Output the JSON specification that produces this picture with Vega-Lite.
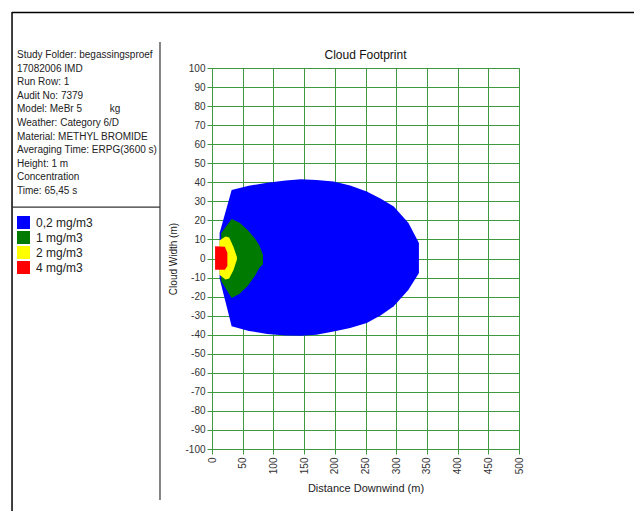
{
  "$schema": "https://vega.github.io/schema/vega-lite/v6.json",
  "autosize": {"type": "none"},
  "width": 307,
  "height": 381,
  "padding": {"left": 212, "top": 68, "right": 115, "bottom": 62},
  "background": "white",
  "title": {"text": "Cloud Footprint", "fontSize": 12, "fontWeight": "normal", "font": "Liberation Sans", "color": "#111", "offset": 6, "anchor": "middle", "dy": 57},
  "config": {
    "view": {"stroke": "#808080", "strokeWidth": 1},
    "font": "Liberation Sans",
    "axis": {
      "gridColor": "#3f9a3f", "gridOpacity": 1, "gridWidth": 1,
      "tickColor": "#3f9a3f", "tickSize": 5, "domain": false, "labelOverlap": false,
      "labelFont": "Liberation Sans", "labelFontSize": 10, "labelColor": "#333",
      "titleFont": "Liberation Sans", "titleFontWeight": "normal", "titleColor": "#222"
    },
    "axisX": {"labelAngle": -90, "labelPadding": 3, "titleFontSize": 11, "titlePadding": 9},
    "axisY": {"labelPadding": 2, "titleFontSize": 10, "titlePadding": 6}
  },
  "datasets": {
    "cloud": [
      {"level": "0,2 mg/m3", "x": 12.4, "lo": -10.5, "hi": 13.4},
      {"level": "0,2 mg/m3", "x": 32, "lo": -35.6, "hi": 36},
      {"level": "0,2 mg/m3", "x": 60, "lo": -38, "hi": 38.2},
      {"level": "0,2 mg/m3", "x": 90, "lo": -39.6, "hi": 39.8},
      {"level": "0,2 mg/m3", "x": 120, "lo": -40.4, "hi": 41},
      {"level": "0,2 mg/m3", "x": 145, "lo": -40.6, "hi": 41.6},
      {"level": "0,2 mg/m3", "x": 170, "lo": -40, "hi": 41.2},
      {"level": "0,2 mg/m3", "x": 198, "lo": -38.3, "hi": 40.4},
      {"level": "0,2 mg/m3", "x": 225, "lo": -36.5, "hi": 38.3},
      {"level": "0,2 mg/m3", "x": 252, "lo": -33.9, "hi": 35.2},
      {"level": "0,2 mg/m3", "x": 275, "lo": -29.8, "hi": 31.3},
      {"level": "0,2 mg/m3", "x": 296, "lo": -25.1, "hi": 27.3},
      {"level": "0,2 mg/m3", "x": 320, "lo": -16.4, "hi": 18.6},
      {"level": "0,2 mg/m3", "x": 337, "lo": -7.6, "hi": 8.1},
      {"level": "1 mg/m3", "x": 15, "lo": -12, "hi": 13.4},
      {"level": "1 mg/m3", "x": 32, "lo": -20.8, "hi": 20.7},
      {"level": "1 mg/m3", "x": 45, "lo": -18.5, "hi": 18.8},
      {"level": "1 mg/m3", "x": 58, "lo": -14.5, "hi": 15},
      {"level": "1 mg/m3", "x": 70, "lo": -9, "hi": 10.5},
      {"level": "1 mg/m3", "x": 77, "lo": -5, "hi": 7},
      {"level": "1 mg/m3", "x": 83, "lo": -3, "hi": 2},
      {"level": "2 mg/m3", "x": 12, "lo": -8.5, "hi": 9.5},
      {"level": "2 mg/m3", "x": 22, "lo": -11, "hi": 11.6},
      {"level": "2 mg/m3", "x": 28, "lo": -10.5, "hi": 11},
      {"level": "2 mg/m3", "x": 35, "lo": -6, "hi": 6},
      {"level": "2 mg/m3", "x": 40.6, "lo": -0.5, "hi": 0.8},
      {"level": "4 mg/m3", "x": 5, "lo": -5.9, "hi": 6.4},
      {"level": "4 mg/m3", "x": 21, "lo": -5.9, "hi": 6.2},
      {"level": "4 mg/m3", "x": 25, "lo": -4, "hi": 3}
    ]
  },
  "layer": [
    {
      "data": {"name": "cloud"},
      "mark": {"type": "area", "opacity": 1, "interpolate": "linear"},
      "encoding": {
        "x": {"field": "x", "type": "quantitative", "scale": {"domain": [0, 500], "nice": false}, "title": "Distance Downwind (m)",
          "axis": {"values": [0,50,100,150,200,250,300,350,400,450,500]}},
        "y": {"field": "hi", "type": "quantitative", "stack": null, "scale": {"domain": [-100, 100], "nice": false}, "title": "Cloud Width (m)",
          "axis": {"values": [-100,-90,-80,-70,-60,-50,-40,-30,-20,-10,0,10,20,30,40,50,60,70,80,90,100], "labelExpr": "datum.value + ''"}},
        "y2": {"field": "lo"},
        "color": {"field": "level", "type": "nominal",
          "scale": {"domain": ["0,2 mg/m3", "1 mg/m3", "2 mg/m3", "4 mg/m3"], "range": ["#0000ff", "#007a00", "#ffff00", "#ff0000"]},
          "legend": {
            "orient": "none", "legendX": -195, "legendY": -18,
            "title": ["Study Folder: begassingsproef", "17082006 IMD", "Run Row: 1", "Audit No: 7379", "Model: MeBr 5\u00a0\u00a0\u00a0\u00a0\u00a0\u00a0\u00a0\u00a0\u00a0\u00a0kg", "Weather: Category 6/D", "Material: METHYL BROMIDE", "Averaging Time: ERPG(3600 s)", "Height: 1 m", "Concentration", "Time: 65,45 s"],
            "titleFont": "Liberation Sans", "titleFontSize": 10, "titleFontWeight": "normal", "titleColor": "#222", "titleLineHeight": 13.6, "titlePadding": 20, "titleLimit": 400,
            "symbolType": "square", "symbolSize": 169, "symbolStrokeWidth": 0, "symbolOpacity": 1,
            "labelFont": "Liberation Sans", "labelFontSize": 12, "labelColor": "#222", "labelOffset": 6, "rowPadding": 2, "padding": 0
          }}
      }
    },
    {
      "data": {"values": [{}]},
      "mark": {"type": "rule", "color": "#000", "strokeWidth": 1.5},
      "encoding": {
        "x": {"datum": -325.7, "title": "Distance Downwind (m)", "axis": {"values": [0,50,100,150,200,250,300,350,400,450,500]}},
        "x2": {"datum": 690},
        "y": {"datum": 129.1, "title": "Cloud Width (m)", "axis": {"values": [-100,-90,-80,-70,-60,-50,-40,-30,-20,-10,0,10,20,30,40,50,60,70,80,90,100], "labelExpr": "datum.value + ''"}}}
    },
    {
      "data": {"values": [{}]},
      "mark": {"type": "rule", "color": "#000", "strokeWidth": 1.5},
      "encoding": {
        "x": {"datum": -325.7, "title": "Distance Downwind (m)", "axis": {"values": [0,50,100,150,200,250,300,350,400,450,500]}},
        "y": {"datum": 129.4, "title": "Cloud Width (m)", "axis": {"values": [-100,-90,-80,-70,-60,-50,-40,-30,-20,-10,0,10,20,30,40,50,60,70,80,90,100], "labelExpr": "datum.value + ''"}},
        "y2": {"datum": -135}}
    },
    {
      "data": {"values": [{}]},
      "mark": {"type": "rule", "color": "#333", "strokeWidth": 1.2},
      "encoding": {
        "x": {"datum": -84.7, "title": "Distance Downwind (m)", "axis": {"values": [0,50,100,150,200,250,300,350,400,450,500]}},
        "y": {"datum": 113.6, "title": "Cloud Width (m)", "axis": {"values": [-100,-90,-80,-70,-60,-50,-40,-30,-20,-10,0,10,20,30,40,50,60,70,80,90,100], "labelExpr": "datum.value + ''"}},
        "y2": {"datum": -126.8}}
    },
    {
      "data": {"values": [{}]},
      "mark": {"type": "rule", "color": "#333", "strokeWidth": 1.2},
      "encoding": {
        "x": {"datum": -325.7, "title": "Distance Downwind (m)", "axis": {"values": [0,50,100,150,200,250,300,350,400,450,500]}},
        "x2": {"datum": -84.7},
        "y": {"datum": 27.0, "title": "Cloud Width (m)", "axis": {"values": [-100,-90,-80,-70,-60,-50,-40,-30,-20,-10,0,10,20,30,40,50,60,70,80,90,100], "labelExpr": "datum.value + ''"}}}
    }
  ]
}
